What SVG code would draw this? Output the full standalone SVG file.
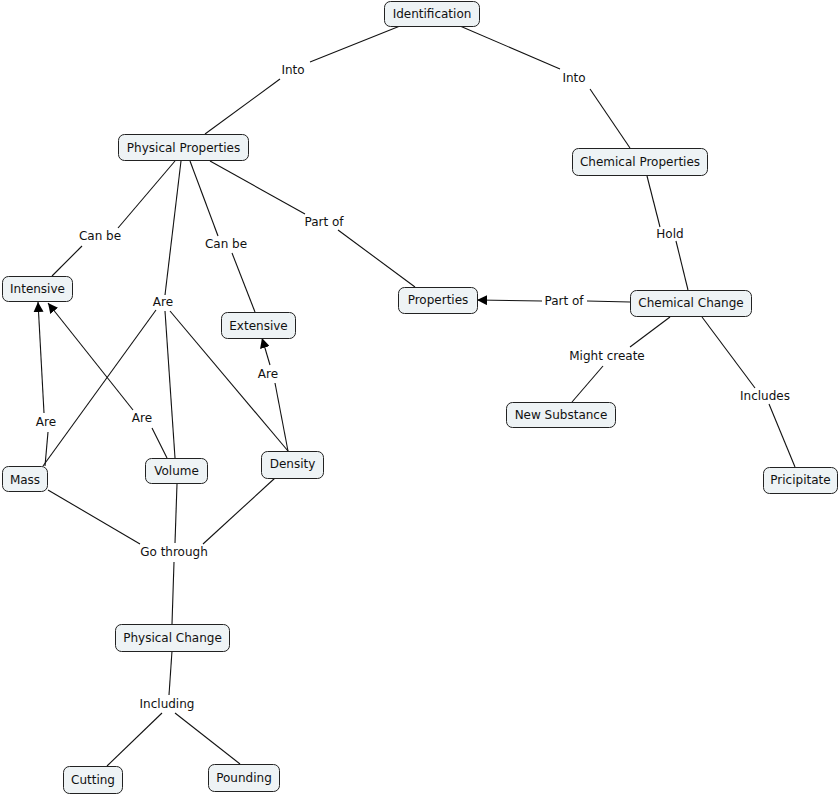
<svg xmlns="http://www.w3.org/2000/svg" width="840" height="795" viewBox="0 0 840 795">
<defs>
<style>
.n rect{fill:#eef3f5;stroke:#222;stroke-width:1}
text{font-family:"DejaVu Sans",Verdana,sans-serif;font-size:12px;fill:#111;text-anchor:middle}
.c line{stroke:#111;stroke-width:1.1}
</style>
<marker id="ah" viewBox="0 0 10 10" refX="10" refY="5" markerWidth="10" markerHeight="10" markerUnits="userSpaceOnUse" orient="auto"><path d="M0,0L10,5L0,10z" fill="#000"/></marker>
</defs>
<rect width="840" height="795" fill="#fff"/>
<g class="c">
<line x1="400" y1="26" x2="310" y2="62"/>
<line x1="280" y1="79" x2="205" y2="134"/>
<line x1="460" y1="26" x2="560" y2="69"/>
<line x1="590" y1="89" x2="630" y2="148"/>
<line x1="175" y1="161" x2="118" y2="228"/>
<line x1="82" y1="246" x2="52" y2="276"/>
<line x1="190" y1="161" x2="218" y2="236"/>
<line x1="232" y1="253" x2="255" y2="312"/>
<line x1="210" y1="161" x2="305" y2="214"/>
<line x1="338" y1="230" x2="415" y2="287"/>
<line x1="181" y1="161" x2="165" y2="295"/>
<line x1="156" y1="310" x2="43" y2="466"/>
<line x1="165" y1="311" x2="175" y2="458"/>
<line x1="170" y1="311" x2="288" y2="451"/>
<line x1="647" y1="176" x2="660" y2="227"/>
<line x1="676" y1="241" x2="688" y2="290"/>
<line x1="630" y1="302" x2="587" y2="301"/>
<line x1="542" y1="301" x2="477" y2="300" marker-end="url(#ah)"/>
<line x1="670" y1="317" x2="630" y2="347"/>
<line x1="603" y1="366" x2="572" y2="402"/>
<line x1="702" y1="317" x2="755" y2="388"/>
<line x1="769" y1="404" x2="795" y2="467"/>
<line x1="45" y1="466" x2="48" y2="432"/>
<line x1="44" y1="413" x2="38" y2="302" marker-end="url(#ah)"/>
<line x1="167" y1="458" x2="152" y2="428"/>
<line x1="133" y1="410" x2="48" y2="303" marker-end="url(#ah)"/>
<line x1="288" y1="451" x2="275" y2="383"/>
<line x1="270" y1="365" x2="262" y2="338" marker-end="url(#ah)"/>
<line x1="48" y1="490" x2="140" y2="544"/>
<line x1="177" y1="484" x2="175" y2="543"/>
<line x1="275" y1="478" x2="203" y2="544"/>
<line x1="174" y1="562" x2="172" y2="624"/>
<line x1="172" y1="651" x2="169" y2="695"/>
<line x1="162" y1="713" x2="107" y2="766"/>
<line x1="175" y1="713" x2="240" y2="764"/>
</g>
<g id="labels">
<text x="293" y="74">Into</text>
<text x="574" y="82">Into</text>
<text x="100" y="240">Can be</text>
<text x="226" y="248">Can be</text>
<text x="324" y="226">Part of</text>
<text x="163" y="306">Are</text>
<text x="670" y="238">Hold</text>
<text x="564" y="305">Part of</text>
<text x="607" y="360">Might create</text>
<text x="765" y="400">Includes</text>
<text x="268" y="378">Are</text>
<text x="46" y="426">Are</text>
<text x="142" y="422">Are</text>
<text x="174" y="556">Go through</text>
<text x="167" y="708">Including</text>
</g>
<g id="identification" class="n"><rect x="384.5" y="1.5" width="95" height="25" rx="6"/><text x="432" y="18">Identification</text></g>
<g id="physical-properties" class="n"><rect x="118.5" y="134.5" width="130" height="26" rx="6"/><text x="183.5" y="152">Physical Properties</text></g>
<g id="chemical-properties" class="n"><rect x="572.5" y="148.5" width="135" height="27" rx="6"/><text x="640" y="166">Chemical Properties</text></g>
<g id="intensive" class="n"><rect x="2.5" y="276.5" width="70" height="25" rx="6"/><text x="37.5" y="293">Intensive</text></g>
<g id="extensive" class="n"><rect x="221.5" y="312.5" width="74" height="26" rx="6"/><text x="258.5" y="330">Extensive</text></g>
<g id="properties" class="n"><rect x="398.5" y="287.5" width="79" height="26" rx="6"/><text x="438" y="304">Properties</text></g>
<g id="chemical-change" class="n"><rect x="630.5" y="290.5" width="121" height="26" rx="6"/><text x="691" y="307">Chemical Change</text></g>
<g id="new-substance" class="n"><rect x="506.5" y="402.5" width="109" height="25" rx="6"/><text x="561" y="419">New Substance</text></g>
<g id="pricipitate" class="n"><rect x="763.5" y="467.5" width="74" height="26" rx="6"/><text x="800.5" y="484">Pricipitate</text></g>
<g id="mass" class="n"><rect x="2.5" y="466.5" width="45" height="25" rx="6"/><text x="25" y="484">Mass</text></g>
<g id="volume" class="n"><rect x="145.5" y="458.5" width="62" height="25" rx="6"/><text x="176.5" y="475">Volume</text></g>
<g id="density" class="n"><rect x="261.5" y="451.5" width="62" height="27" rx="6"/><text x="292.5" y="468">Density</text></g>
<g id="physical-change" class="n"><rect x="115.5" y="624.5" width="114" height="27" rx="6"/><text x="172.5" y="642">Physical Change</text></g>
<g id="cutting" class="n"><rect x="63.5" y="766.5" width="59" height="27" rx="6"/><text x="93" y="784">Cutting</text></g>
<g id="pounding" class="n"><rect x="208.5" y="764.5" width="71" height="27" rx="6"/><text x="244" y="782">Pounding</text></g>
</svg>
